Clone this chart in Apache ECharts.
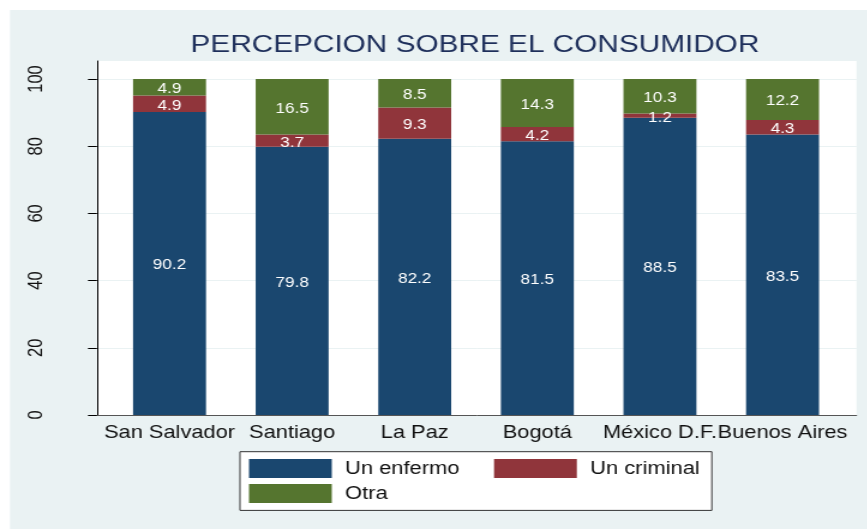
<!DOCTYPE html>
<html>
<head>
<meta charset="utf-8">
<script src="https://cdn.jsdelivr.net/npm/echarts@6/dist/echarts.min.js"></script>
<style>
  html, body { margin: 0; padding: 0; background: #fff; overflow: hidden; }
  /* the original export is stretched horizontally, so draw narrower and scale */
  #chart { width: 722.5px; height: 529px; transform: scaleX(1.2); transform-origin: 0 0; }
</style>
</head>
<body>
<div id="chart"></div>
<script>
var categories = ['San Salvador', 'Santiago', 'La Paz', 'Bogotá', 'México D.F.', 'Buenos Aires'];
var enfermo = [90.2, 79.8, 82.2, 81.5, 88.5, 83.5];
var criminal = [4.9, 3.7, 9.3, 4.2, 1.2, 4.3];
var otra = [4.9, 16.5, 8.5, 14.3, 10.3, 12.2];

var font = 'Liberation Sans, Arial, sans-serif';

function barSeries(name, arr, color) {
    return {
        name: name,
        type: 'bar',
        stack: 'total',
        xAxisIndex: 2,
        yAxisIndex: 2,
        barWidth: 60.8,
        data: arr,
        itemStyle: { color: color },
        label: {
            show: true,
            position: 'inside',
            offset: [0, 2],
            color: '#fff',
            fontFamily: font,
            fontSize: 14.3
        },
        emphasis: { disabled: true }
    };
}

var chart = echarts.init(document.getElementById('chart'));
chart.setOption({
    animation: false,
    textStyle: { fontFamily: font },
    graphic: [
        {
            type: 'rect',
            z: -10,
            shape: { x: 8.33, y: 10, width: 800, height: 600 },
            style: { fill: '#EAF2F3' },
            silent: true
        }
    ],
    title: {
        text: 'PERCEPCION SOBRE EL CONSUMIDOR',
        left: 395.8,
        textAlign: 'center',
        top: 33,
        padding: 0,
        textStyle: { color: '#1E2F5B', fontSize: 24.8, fontWeight: 'normal', fontFamily: font }
    },
    grid: [
        // full plot region: white background, axis lines
        { left: 80.8, right: 9.2, top: 61, bottom: 114, show: true, backgroundColor: '#fff', borderWidth: 0 },
        // 0..100 scale for ticks, labels and grid lines
        { left: 80.8, right: 9.2, top: 79, bottom: 114 },
        // bars
        { left: 90.2, right: 19.8, top: 79, bottom: 114 }
    ],
    legend: {
        left: 200,
        top: 451.7,
        width: 380,
        padding: [7.3, 9.5, 7.4, 7.5],
        itemGap: 6,
        itemWidth: 69,
        itemHeight: 19,
        icon: 'rect',
        selectedMode: false,
        backgroundColor: '#fff',
        borderColor: '#333',
        borderWidth: 1,
        textStyle: {
            color: '#111',
            fontSize: 18.3,
            fontFamily: font,
            lineHeight: 19,
            padding: [0, 0, 0, 6]
        },
        data: [
            { name: 'Un enfermo', textStyle: { width: 118.2 } },
            { name: 'Un criminal', textStyle: { width: 92 } },
            { name: 'Otra', textStyle: { width: 118.2 } }
        ]
    },
    xAxis: [
        {
            gridIndex: 0, type: 'value', min: 0, max: 1,
            axisLine: { show: true, onZero: false, lineStyle: { color: '#555', width: 1 } },
            axisTick: { show: false }, axisLabel: { show: false }, splitLine: { show: false }
        },
        { gridIndex: 1, type: 'value', min: 0, max: 1, show: false },
        {
            gridIndex: 2,
            type: 'category',
            data: categories,
            axisLine: { show: false },
            axisTick: { show: false },
            axisLabel: {
                margin: 9,
                color: '#111',
                fontSize: 18.2,
                fontFamily: font,
                interval: 0
            }
        }
    ],
    yAxis: [
        {
            gridIndex: 0, type: 'value', min: 0, max: 1,
            axisLine: { show: true, lineStyle: { color: '#000', width: 1 } },
            axisTick: { show: false }, axisLabel: { show: false }, splitLine: { show: false }
        },
        {
            gridIndex: 1,
            type: 'value',
            min: 0,
            max: 100,
            interval: 20,
            axisLine: { show: false },
            axisTick: { show: true, length: 7.5, lineStyle: { color: '#000' } },
            splitLine: { show: true, showMinLine: false, lineStyle: { color: '#EAF2F3', width: 1 } },
            axisLabel: {
                rotate: 90,
                margin: 42,
                color: '#111',
                fontSize: 16.5,
                fontFamily: font
            }
        },
        { gridIndex: 2, type: 'value', min: 0, max: 100, show: false }
    ],
    series: [
        barSeries('Un enfermo', enfermo, '#1A476F'),
        barSeries('Un criminal', criminal, '#90353B'),
        barSeries('Otra', otra, '#55752F')
    ]
});
</script>
</body>
</html>
